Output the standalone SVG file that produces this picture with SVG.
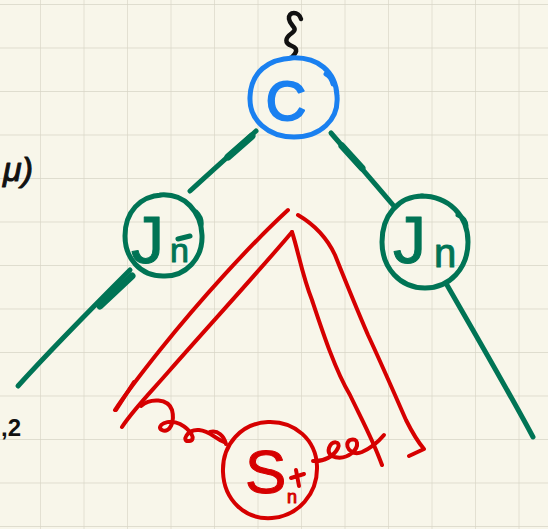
<svg xmlns="http://www.w3.org/2000/svg" width="548" height="529" viewBox="0 0 548 529">
  <defs>
    <pattern id="grid" x="-2.5" y="4" width="43.5" height="43.5" patternUnits="userSpaceOnUse">
      <path d="M43.5 0 V43.5 M0 0 H43.5" fill="none" stroke="#d8d5c6" stroke-width="1.3"/>
    </pattern>
  </defs>
  <style>
    .ink { fill: none; stroke-linecap: round; stroke-linejoin: round; }
    .blue { stroke: #1a80f0; stroke-width: 5; }
    .green { stroke: #007455; stroke-width: 5; }
    .greenThick { stroke: #007455; stroke-width: 7; }
    .red { stroke: #d60000; stroke-width: 4; }
    .black { stroke: #111; stroke-width: 4.5; }
    .lbl { font-family: "Liberation Sans", sans-serif; stroke-linejoin: round; }
    .lblG { fill: #007455; stroke: #007455; stroke-width: 1; }
    .lblR { fill: #d60000; stroke: #d60000; stroke-width: 1; }
  </style>

  <!-- paper -->
  <rect width="548" height="529" fill="#f8f6ea"/>
  <rect width="548" height="529" fill="url(#grid)"/>

  <!-- stray marks at the left edge -->
  <g id="left-notes">
    <text x="3" y="181" class="lbl" font-size="34" fill="#111" stroke="#111" stroke-width="1" font-style="italic">μ)</text>
    <text x="1" y="436" class="lbl" font-size="24" font-weight="bold" fill="#111">,2</text>
  </g>

  <!-- connectors -->
  <g id="connectors">
    <!-- green tree edges -->
    <path class="ink green" d="M256 131 C240 146 215 168 190 191"/>
    <path class="ink greenThick" d="M252 136 L228 157"/>
    <path class="ink green" d="M130 270 C95 305 55 345 18 386"/>
    <path class="ink greenThick" d="M132 276 L100 306"/>
    <path class="ink green" d="M331 133 C350 155 372 180 393 205"/>
    <path class="ink greenThick" d="M342 146 L362 168"/>
    <path class="ink green" d="M447 285 C470 325 505 385 533 437"/>
    <!-- red subtree outline -->
    <path class="ink red" d="M288 210 C250 245 200 300 160 350 C140 375 125 395 115 410"/>
    <path class="ink red" d="M134 382 L116 410" stroke-width="6"/>
    <path class="ink red" d="M292 232 C260 270 205 330 170 370 C150 393 133 410 122 427"/>
    <path class="ink red" d="M292 232 C298 250 302 275 312 300 C322 330 335 370 350 395 C362 420 373 440 382 465"/>
    <path class="ink red" d="M298 215 C315 225 328 240 335 255 C345 280 355 305 368 335 C382 365 395 395 406 420 C412 432 418 442 424 449 L409 456"/>
    <!-- curly lead into S -->
    <path class="ink red" d="M141 406 C150 398 168 398 172 410 C175 421 170 434 162 430 C155 426 168 418 180 424 C191 430 197 440 189 441 C181 442 187 429 199 430 C210 431 214 438 224 442"/>
    <path class="ink red" d="M210 432 C218 430 224 436 226 444"/>
    <!-- curly tail out of S -->
    <path class="ink red" d="M313 461 C324 462 334 456 338 448 C341 441 332 440 329 448 C326 458 342 461 352 453 C360 446 358 437 350 440 C343 444 350 457 362 452 C371 448 379 441 384 435"/>
  </g>

  <!-- root -->
  <g id="node-C">
    <path class="ink black" d="M301 19 C299 11 288 11 289 19 C290 26 299 28 292 33 C285 38 284 43 292 46 C299 49 296 53 292 57"/>
    <path class="ink blue" d="M290 58 C318 56 336 72 337 96 C339 120 320 137 294 137 C268 137 249 120 250 97 C251 72 268 59 293 58 M326 74 C330 76 332 80 333 84"/>
    <text x="286" y="120" class="lbl" font-size="56" fill="#1a80f0" stroke="#1a80f0" stroke-width="2" text-anchor="middle">C</text>
  </g>

  <!-- left child -->
  <g id="node-Jnbar">
    <path class="ink green" d="M160 195 C185 193 201 212 202 235 C203 258 186 277 163 276 C140 276 125 258 125 236 C125 212 140 196 162 195 M196 212 C200 216 202 220 201 226"/>
    <text x="131" y="263" class="lbl lblG" font-size="66">J</text>
    <text x="170" y="262" class="lbl lblG" font-size="34">n</text>
    <path class="ink green" d="M178 239 L190 236" stroke-width="3"/>
  </g>

  <!-- right child -->
  <g id="node-Jn">
    <path class="ink green" d="M421 196 C449 196 468 216 468 242 C468 268 450 288 425 288 C400 288 382 268 382 242 C382 216 398 196 423 196 M458 215 C463 217 466 222 466 226"/>
    <text x="393" y="263" class="lbl lblG" font-size="66">J</text>
    <text x="434" y="267" class="lbl lblG" font-size="40">n</text>
  </g>

  <!-- subtree node -->
  <g id="node-Sn">
    <path class="ink red" d="M268 422 C295 421 316 440 317 466 C318 494 298 516 272 518 C245 520 224 500 223 472 C222 444 242 423 268 422"/>
    <text x="245" y="493" class="lbl lblR" font-size="62">S</text>
    <text x="287" y="503" class="lbl lblR" font-size="18" stroke-width="0.5">n</text>
    <path class="ink red" d="M291 478 L304 474 M296 470 L299 486" stroke-width="3"/>
  </g>
</svg>
